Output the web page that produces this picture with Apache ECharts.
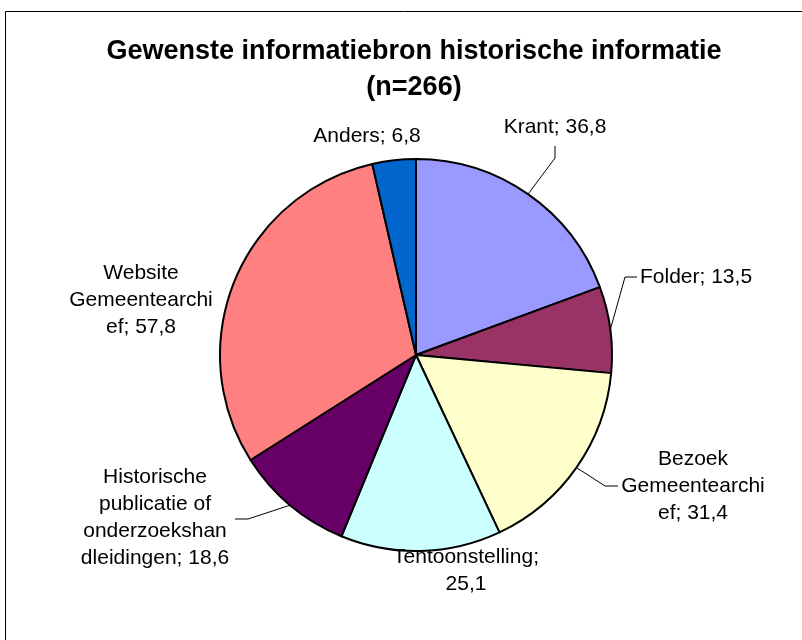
<!DOCTYPE html>
<html>
<head>
<meta charset="utf-8">
<style>
  html, body { margin: 0; padding: 0; background: #fff; }
  #chart { width: 802px; height: 640px; }
</style>
</head>
<body>
<div id="chart"></div>
<script src="https://cdn.jsdelivr.net/npm/echarts@6/dist/echarts.min.js"></script>
<script>
// data, met de klok mee vanaf 12 uur
const categories = [
  'Krant', 'Folder', 'Bezoek Gemeentearchief', 'Tentoonstelling',
  'Historische publicatie of onderzoekshandleidingen', 'Website Gemeentearchief', 'Anders'
];
const values = [36.8, 13.5, 31.4, 25.1, 18.6, 57.8, 6.8];

// weergave: afgebroken namen zoals Excel ze toont
const wrappedNames = [
  'Krant', 'Folder', 'Bezoek\nGemeentearchi\nef', 'Tentoonstelling',
  'Historische\npublicatie of\nonderzoekshan\ndleidingen', 'Website\nGemeentearchi\nef', 'Anders'
];
const colors = ['#9999FF', '#993366', '#FFFFCC', '#CCFFFF', '#660066', '#FF8080', '#0066CC'];
// label-ankers [x, y, align] en knikpunten van de verbindingslijnen
const labelPos = [
  [555, 127, 'center'], [640, 277, 'left'], [693, 486, 'center'], [466, 571, 'center'],
  [155, 518, 'center'], [141, 300, 'center'], [367, 136, 'center']
];
const leaderBends = [
  [[555, 158], [555, 146]],
  [[625, 277], [637, 277]],
  [[605, 486], [618, 486]],
  null,
  [[248, 519], [235, 519]],
  null,
  null
];

const fmt = (v) => v.toFixed(1).replace('.', ',');

const chart = echarts.init(document.getElementById('chart'));

chart.setOption({
  backgroundColor: '#fff',
  animation: false,
  title: {
    text: 'Gewenste informatiebron historische informatie\n(n=266)',
    left: 409,
    top: 29,
    textAlign: 'center',
    textStyle: {
      fontFamily: 'Liberation Sans',
      fontWeight: 'bold',
      fontSize: 27,
      lineHeight: 36,
      color: '#000'
    }
  },
  graphic: [{
    type: 'rect',
    shape: { x: 5.5, y: 11.5, width: 820, height: 660 },
    style: { fill: 'none', stroke: '#000', lineWidth: 1 },
    silent: true
  }],
  series: [{
    type: 'pie',
    center: [416, 355],
    radius: 196,
    startAngle: 90,
    clockwise: true,
    avoidLabelOverlap: false,
    itemStyle: { borderColor: '#000', borderWidth: 2 },
    emphasis: { disabled: true },
    label: {
      show: true,
      position: 'outside',
      fontFamily: 'Liberation Sans',
      fontSize: 21,
      lineHeight: 27,
      color: '#000',
      formatter: (p) => wrappedNames[p.dataIndex] + ';' + (p.dataIndex === 3 ? '\n' : ' ') + fmt(p.value)
    },
    labelLine: {
      show: true,
      lineStyle: { color: '#000', width: 1 }
    },
    labelLayout: (params) => {
      const i = params.dataIndex;
      const pos = labelPos[i];
      const out = { x: pos[0], y: pos[1], align: pos[2], verticalAlign: 'middle' };
      const bend = leaderBends[i];
      if (bend && params.labelLinePoints) {
        out.labelLinePoints = [params.labelLinePoints[0], bend[0], bend[1]];
      }
      return out;
    },
    data: categories.map((name, i) => ({
      name,
      value: values[i],
      itemStyle: { color: colors[i] },
      labelLine: { show: leaderBends[i] !== null }
    }))
  }]
});
</script>
</body>
</html>
